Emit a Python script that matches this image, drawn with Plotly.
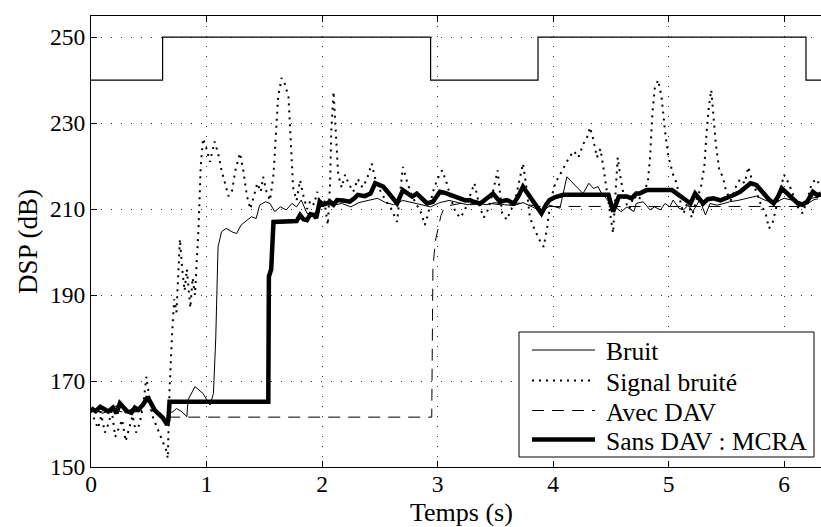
import plotly.graph_objects as go

# Speech-activity indicator (240 = noise only, 250 = speech present)
vad_t = [0.00, 0.62, 0.62, 2.94, 2.94, 3.87, 3.87, 6.19, 6.19, 6.32]
vad_v = [240, 240, 250, 250, 240, 240, 250, 250, 240, 240]

# Noise PSD ("Bruit")
bruit = [
    (0.00, 163.5), (0.05, 163.0), (0.10, 162.5), (0.15, 163.0), (0.20, 164.0),
    (0.25, 164.5), (0.30, 162.5), (0.35, 163.5), (0.40, 162.8), (0.45, 164.0),
    (0.50, 165.5), (0.55, 163.5), (0.60, 162.0), (0.65, 161.0), (0.68, 162.5),
    (0.71, 162.9), (0.74, 163.6), (0.78, 163.0), (0.83, 161.7), (0.84, 165.6),
    (0.90, 168.7), (0.97, 167.1), (1.03, 164.4), (1.06, 167.1), (1.08, 180.0),
    (1.10, 201.2), (1.13, 204.7), (1.17, 205.5), (1.22, 204.7), (1.26, 204.3),
    (1.30, 206.3), (1.35, 207.4), (1.39, 208.2), (1.43, 207.8), (1.46, 210.9),
    (1.51, 211.7), (1.55, 211.3), (1.59, 209.4), (1.64, 210.5), (1.69, 209.8),
    (1.74, 211.3), (1.78, 210.5), (1.82, 212.1), (1.87, 209.0), (1.93, 208.8),
    (1.98, 210.5), (2.04, 211.0), (2.10, 210.9), (2.17, 211.3), (2.25, 210.5),
    (2.32, 211.5), (2.40, 212.0), (2.48, 212.5), (2.55, 211.5), (2.62, 211.0),
    (2.70, 212.0), (2.78, 211.5), (2.86, 211.0), (2.94, 210.5), (3.02, 211.5),
    (3.10, 212.0), (3.18, 211.5), (3.26, 211.0), (3.34, 211.5), (3.42, 211.0),
    (3.50, 211.5), (3.58, 211.0), (3.66, 210.8), (3.74, 211.5), (3.82, 210.5),
    (3.90, 209.5), (3.98, 210.8), (4.06, 210.2), (4.12, 217.5), (4.15, 216.7),
    (4.20, 215.2), (4.26, 213.6), (4.31, 216.0), (4.35, 214.8), (4.39, 215.2),
    (4.42, 213.6), (4.46, 212.5), (4.50, 211.0), (4.55, 210.2), (4.59, 209.4),
    (4.64, 210.5), (4.70, 209.4), (4.72, 211.3), (4.78, 211.7), (4.84, 209.8),
    (4.88, 210.5), (4.93, 209.8), (4.97, 211.3), (5.01, 210.5), (5.04, 212.1),
    (5.09, 210.2), (5.13, 209.8), (5.17, 210.9), (5.21, 209.4), (5.27, 212.1),
    (5.32, 208.6), (5.36, 211.3), (5.42, 210.9), (5.48, 211.3), (5.53, 211.7),
    (5.60, 212.0), (5.68, 212.5), (5.76, 213.0), (5.84, 212.0), (5.92, 211.5),
    (6.00, 212.5), (6.08, 212.0), (6.16, 211.5), (6.24, 212.5), (6.32, 213.0),
]

# Noisy signal PSD ("Signal bruité")
signal_bruite = [
    (0.00, 163), (0.03, 161), (0.06, 159), (0.09, 162), (0.12, 158), (0.15, 160),
    (0.18, 163), (0.21, 157), (0.24, 159), (0.27, 161), (0.30, 156), (0.33, 159),
    (0.36, 162), (0.39, 158), (0.42, 160), (0.45, 164), (0.48, 171), (0.50, 167),
    (0.53, 162), (0.56, 160), (0.59, 158), (0.62, 156), (0.65, 154), (0.665, 152),
    (0.68, 168), (0.70, 180), (0.72, 189), (0.74, 186), (0.77, 203), (0.79, 196),
    (0.81, 191), (0.83, 196), (0.86, 187), (0.88, 194), (0.90, 190), (0.93, 205),
    (0.95, 220), (0.97, 226.4), (1.00, 224), (1.03, 221), (1.07, 225.7), (1.10, 223),
    (1.13, 219), (1.16, 216), (1.19, 213), (1.22, 214), (1.25, 219), (1.29, 223),
    (1.32, 218.7), (1.35, 213), (1.38, 210), (1.41, 213), (1.44, 216), (1.47, 214),
    (1.49, 217.5), (1.52, 214), (1.55, 212), (1.58, 218), (1.60, 228), (1.62, 236),
    (1.65, 240.5), (1.68, 239), (1.71, 236), (1.73, 224), (1.75, 215), (1.78, 212),
    (1.81, 216.7), (1.84, 213), (1.87, 210), (1.90, 212), (1.93, 211), (1.96, 214),
    (1.99, 210), (2.02, 212), (2.05, 206.3), (2.07, 216), (2.08, 228), (2.10, 237.3),
    (2.12, 228), (2.14, 218), (2.17, 215), (2.20, 218), (2.23, 216), (2.27, 214),
    (2.31, 217), (2.35, 215), (2.39, 217), (2.43, 220.6), (2.47, 216), (2.51, 214),
    (2.55, 212), (2.60, 210), (2.65, 207), (2.70, 219.8), (2.74, 216), (2.78, 213),
    (2.82, 211), (2.86, 209), (2.89, 206.3), (2.92, 209), (2.96, 214), (3.00, 217),
    (3.04, 219), (3.08, 216), (3.12, 212), (3.16, 209), (3.20, 208), (3.24, 210),
    (3.28, 213), (3.32, 216), (3.36, 211), (3.40, 208), (3.44, 210), (3.48, 214),
    (3.52, 219), (3.56, 209), (3.60, 207.5), (3.64, 210), (3.68, 213), (3.71, 217),
    (3.74, 220.6), (3.77, 215), (3.80, 208), (3.83, 205.9), (3.86, 204), (3.89, 202.4),
    (3.92, 201.2), (3.95, 206), (3.98, 212), (4.02, 216), (4.06, 218), (4.10, 220),
    (4.14, 222), (4.18, 223.5), (4.22, 222), (4.26, 225), (4.30, 227), (4.32, 229),
    (4.35, 226), (4.38, 222), (4.41, 224), (4.44, 219), (4.47, 214), (4.50, 207.9),
    (4.52, 204.4), (4.54, 214), (4.56, 222), (4.58, 218), (4.62, 212), (4.66, 210),
    (4.70, 213), (4.74, 212), (4.78, 214), (4.82, 216), (4.84, 222), (4.86, 232),
    (4.88, 238), (4.91, 240), (4.94, 236), (4.97, 228), (5.00, 222), (5.04, 218),
    (5.07, 216), (5.10, 212), (5.13, 209), (5.17, 212), (5.20, 208), (5.24, 212),
    (5.28, 215), (5.31, 220), (5.33, 228), (5.35, 234), (5.37, 237.7), (5.39, 232),
    (5.41, 225), (5.44, 219), (5.47, 217.5), (5.50, 214), (5.54, 212), (5.58, 215),
    (5.62, 217), (5.66, 216), (5.69, 219.8), (5.72, 217), (5.76, 214), (5.80, 211),
    (5.84, 209), (5.87, 205.5), (5.90, 206.7), (5.93, 210), (5.97, 215), (6.00, 218),
    (6.04, 216), (6.08, 213), (6.12, 210.4), (6.16, 209), (6.20, 212), (6.24, 216),
    (6.28, 217), (6.32, 215),
]

# Noise estimate with voice activity detection ("Avec DAV")
avec_dav = [
    (0.00, 163.2), (0.10, 162.8), (0.20, 163.3), (0.30, 162.6), (0.40, 162.9),
    (0.50, 163.5), (0.60, 162.2), (0.66, 161.6), (2.95, 161.6), (2.955, 180.0),
    (2.96, 196.0), (2.98, 202.4), (3.00, 205.0), (3.03, 208.5), (3.05, 209.8),
    (3.10, 210.8), (3.20, 211.3), (3.30, 211.0), (3.40, 211.5), (3.50, 211.2),
    (3.60, 210.8), (3.70, 211.4), (3.80, 210.9), (3.87, 210.6), (6.19, 210.6),
    (6.22, 211.5), (6.26, 212.2), (6.32, 212.5),
]

# Noise estimate without VAD, MCRA method ("Sans DAV : MCRA")
sans_dav_mcra = [
    (0.00, 163.7), (0.04, 163.0), (0.08, 164.0), (0.12, 163.2), (0.15, 162.9),
    (0.19, 163.8), (0.22, 162.5), (0.25, 164.8), (0.28, 164.0), (0.31, 163.0),
    (0.35, 162.6), (0.38, 163.8), (0.41, 163.3), (0.45, 164.5), (0.49, 166.3),
    (0.52, 165.0), (0.55, 163.3), (0.58, 162.5), (0.62, 161.5), (0.66, 159.8),
    (0.67, 161.0), (0.68, 165.2), (1.535, 165.2), (1.54, 194.3), (1.56, 196.0),
    (1.58, 207.0), (1.78, 207.2), (1.81, 208.6), (1.84, 207.6), (1.87, 207.4),
    (1.90, 208.8), (1.93, 208.6), (1.95, 207.9), (1.98, 211.7), (2.01, 211.0),
    (2.04, 211.3), (2.07, 211.7), (2.10, 211.0), (2.13, 212.1), (2.18, 212.0),
    (2.24, 211.7), (2.28, 212.5), (2.31, 213.3), (2.37, 213.0), (2.42, 213.6),
    (2.46, 216.0), (2.50, 215.6), (2.53, 215.2), (2.58, 213.6), (2.65, 211.3),
    (2.70, 214.4), (2.74, 213.5), (2.78, 212.9), (2.82, 213.6), (2.87, 212.3),
    (2.91, 211.3), (2.96, 211.7), (3.02, 214.0), (3.06, 213.8), (3.11, 213.3),
    (3.15, 213.0), (3.19, 212.5), (3.24, 212.0), (3.28, 212.1), (3.31, 211.7),
    (3.37, 211.3), (3.42, 212.5), (3.48, 213.6), (3.54, 211.7), (3.60, 212.1),
    (3.66, 211.3), (3.70, 213.0), (3.74, 215.2), (3.80, 212.9), (3.85, 211.0),
    (3.90, 209.0), (3.94, 211.0), (3.97, 212.1), (4.02, 212.8), (4.09, 213.3),
    (4.48, 213.3), (4.52, 209.4), (4.57, 212.9), (4.64, 212.9), (4.68, 212.5),
    (4.72, 213.6), (4.75, 213.6), (4.81, 214.4), (5.03, 214.4), (5.10, 212.9),
    (5.15, 212.0), (5.19, 211.3), (5.23, 213.6), (5.26, 212.5), (5.30, 211.3),
    (5.34, 212.3), (5.39, 212.5), (5.45, 212.0), (5.50, 212.5), (5.56, 213.2),
    (5.62, 214.0), (5.67, 215.2), (5.71, 216.0), (5.76, 215.6), (5.82, 213.6),
    (5.87, 212.2), (5.91, 211.3), (5.95, 213.0), (5.98, 214.8), (6.02, 213.8),
    (6.05, 212.9), (6.09, 212.0), (6.12, 211.3), (6.16, 211.0), (6.20, 211.7),
    (6.25, 214.0), (6.29, 213.2), (6.32, 213.6),
]

y_ticks = [150, 170, 190, 210, 230, 250]
x_ticks = [0, 1, 2, 3, 4, 5, 6]

SERIF = "Liberation Serif"

# Plot-area geometry in pixels (used to place the legend box and x title)
W, H = 821, 527
ML, MR, MT, MB = 91, 0, 16, 60
PW, PH = W - ML - MR, H - MT - MB


def px_x(px):
    return (px - ML) / PW


def px_y(py):
    return (H - MB - py) / PH


def split(pairs):
    return [p[0] for p in pairs], [p[1] for p in pairs]


fig = go.Figure()

fig.add_trace(go.Scatter(x=vad_t, y=vad_v, mode="lines", showlegend=False,
                         line=dict(color="black", width=1.2)))

series = [
    ("Bruit", bruit, dict(color="black", width=1)),
    ("Signal bruité", signal_bruite, dict(color="black", width=2, dash="2px,5px")),
    ("Avec DAV", avec_dav, dict(color="black", width=1, dash="12px,8px")),
    ("Sans DAV : MCRA", sans_dav_mcra, dict(color="black", width=4.5)),
]
for name, pairs, style in series:
    xs, ys = split(pairs)
    fig.add_trace(go.Scatter(x=xs, y=ys, mode="lines", name=name, line=style,
                             showlegend=False))

# Boxed legend, drawn in paper coordinates with tight row spacing
legend_box = dict(x0=519, x1=814, y0=332, y1=457)
legend_rows = [350, 380.5, 410.5, 439.5]
sample_x = (532, 595)
text_x = 604

fig.add_shape(type="rect", xref="paper", yref="paper",
              x0=px_x(legend_box["x0"]), x1=px_x(legend_box["x1"]),
              y0=px_y(legend_box["y1"]), y1=px_y(legend_box["y0"]),
              line=dict(color="black", width=1), fillcolor="white", layer="above")
for (name, _, style), row in zip(series, legend_rows):
    fig.add_shape(type="line", xref="paper", yref="paper",
                  x0=px_x(sample_x[0]), x1=px_x(sample_x[1]),
                  y0=px_y(row), y1=px_y(row),
                  line=dict(color=style["color"], width=style["width"],
                            dash=style.get("dash", "solid")),
                  layer="above")
    fig.add_annotation(x=px_x(text_x), y=px_y(row + 1.5), xref="paper", yref="paper",
                       text=name, showarrow=False, xanchor="left", yanchor="middle",
                       font=dict(family=SERIF, size=25.5, color="black"))

# x-axis title, set just below the tick labels
fig.add_annotation(x=px_x(461.5), y=px_y(496), xref="paper", yref="paper",
                   text="Temps (s)", showarrow=False, xanchor="center", yanchor="top",
                   font=dict(family=SERIF, size=26, color="black"))

axis_common = dict(
    showline=True, linecolor="black", linewidth=1,
    ticks="inside", ticklen=6, tickcolor="black",
    showgrid=True, gridcolor="#333", gridwidth=1, griddash="1px,9px",
    zeroline=False,
    tickfont=dict(family=SERIF, size=23.5, color="black"),
)

fig.update_xaxes(range=[0, 6.32], tickvals=x_ticks, mirror="ticks",
                 ticklabelstandoff=-4, **axis_common)
fig.update_yaxes(range=[150, 254.9], tickvals=y_ticks, mirror=False,
                 title=dict(text="DSP (dB)", font=dict(family=SERIF, size=27, color="black"),
                            standoff=4),
                 **axis_common)

fig.update_layout(
    width=W, height=H,
    margin=dict(l=ML, r=MR, t=MT, b=MB),
    paper_bgcolor="white", plot_bgcolor="white",
    font=dict(family=SERIF, color="black"),
    showlegend=False,
)

fig.write_html("out.html")
